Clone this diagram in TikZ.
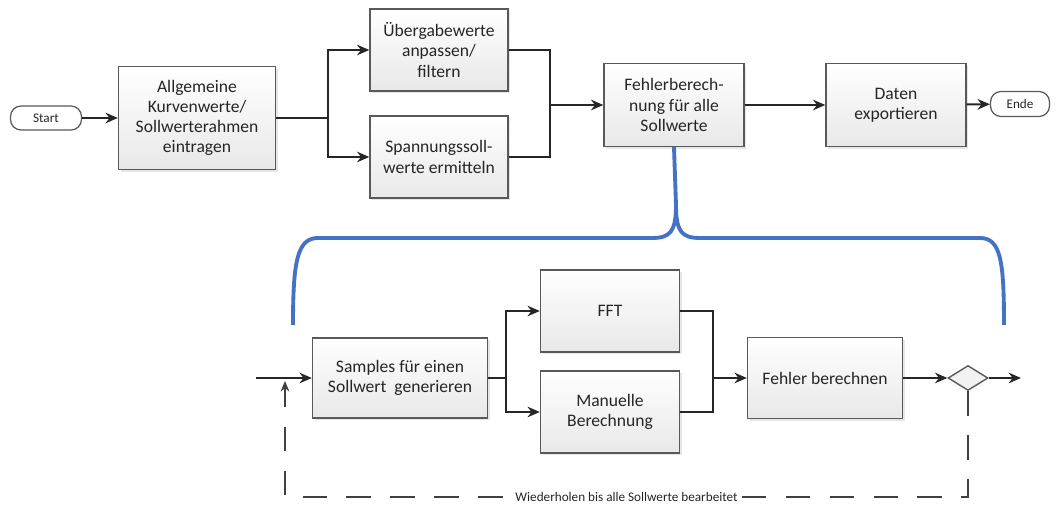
\documentclass[tikz,border=0pt]{standalone}
\usepackage{fontspec}
\setmainfont{Carlito}
\usetikzlibrary{arrows.meta, shapes.geometric, shadows}
\definecolor{klammerblau}{RGB}{68,114,196}

\begin{document}
\begin{tikzpicture}[x=0.02cm, y=-0.02cm, line width=1.2pt,
    % Stile
    box/.style={draw=black!65, line width=0.8pt, top color=white, bottom color=black!9,
        drop shadow={opacity=0.2, shadow xshift=1.2pt, shadow yshift=-1.2pt},
        align=center, text=black!85, font=\fontsize{10}{11.5}\selectfont, inner sep=2pt},
    term/.style={draw=black!65, line width=0.7pt, rounded corners=6pt, fill=white,
        text=black!85, font=\fontsize{7.5}{8}\selectfont, inner sep=1pt},
    flow/.style={draw=black!85, -{Stealth[length=7pt, width=6pt]}},
    line/.style={draw=black!85},
    brace/.style={draw=klammerblau, line width=2.2pt},
    loop/.style={draw=black!75, line width=0.8pt, dash pattern=on 14pt off 11pt,
        -{Stealth[length=6pt, width=5pt]}},
    looplabel/.style={fill=white, inner sep=0.5pt, text=black!85, font=\fontsize{7.5}{9}\selectfont}
]
    \useasboundingbox (0,0) rectangle (1059,506);

    % --- obere Reihe (Hauptablauf) ---
    \node[term, minimum width=1.42cm, minimum height=0.48cm] (start) at (46,118) {Start};
    \node[box, minimum width=3.14cm, minimum height=2.06cm] (kurve) at (197,118)
        {Allgemeine\\Kurvenwerte/\\Sollwerterahmen\\eintragen};
    \node[box, minimum width=2.76cm, minimum height=1.64cm] (filter) at (439,50)
        {Übergabewerte\\anpassen/\\filtern};
    \node[box, minimum width=2.76cm, minimum height=1.64cm] (spann) at (439,157)
        {Spannungssoll-\\werte ermitteln};
    \node[box, minimum width=2.8cm, minimum height=1.66cm] (fehlalle) at (674,105)
        {Fehlerberech-\\nung für alle\\Sollwerte};
    \node[box, minimum width=2.8cm, minimum height=1.66cm] (export) at (896,105)
        {Daten\\exportieren};
    \node[term, minimum width=1.18cm, minimum height=0.5cm] (ende) at (1020,104) {Ende};

    \coordinate (split1) at (328,118);
    \coordinate (merge1) at (550,105);

    % --- untere Reihe (Detail der Fehlerberechnung) ---
    \node[box, minimum width=3.5cm, minimum height=1.6cm] (samples) at (400,378)
        {Samples für einen\\Sollwert\ \ generieren};
    \node[box, minimum width=2.78cm, minimum height=1.64cm] (fft) at (610,311) {FFT};
    \node[box, minimum width=2.78cm, minimum height=1.64cm] (manuell) at (610,412)
        {Manuelle\\Berechnung};
    \node[box, minimum width=3.1cm, minimum height=1.62cm] (fehler) at (825,378)
        {Fehler berechnen};
    \node[diamond, draw=black!65, line width=0.8pt, fill=black!5, aspect=1.6,
        minimum width=0.8cm, minimum height=0.5cm, inner sep=0pt] (abfrage) at (968,378) {};

    \coordinate (eingang) at (256,378);
    \coordinate (ausgang) at (1021,378);
    \coordinate (split2) at (506,378);
    \coordinate (merge2) at (713,378);
    \coordinate (eckeR) at (968,497);
    \coordinate (rueck) at (285,381);

    % --- Verbindungen oben ---
    \draw[flow] (start) -- (kurve);
    \draw[flow] (kurve.east) -- (split1) |- (filter.west);
    \draw[flow] (split1) |- (spann.west);
    \draw[line] (filter.east) -| (merge1);
    \draw[line] (spann.east) -| (merge1);
    \draw[flow] (merge1) -- (fehlalle.west);
    \draw[flow] (fehlalle) -- (export);
    \draw[flow] (export) -- (ende);

    % --- Klammer ---
    \draw[brace] (fehlalle.south) -- (676,205)
        .. controls (676,232) and (670,238) .. (652,238) -- (318,238)
        .. controls (297,238) and (293,262) .. (293,325);
    \draw[brace] (676,205)
        .. controls (676,232) and (682,238) .. (700,238) -- (980,238)
        .. controls (1001,238) and (1004,262) .. (1004,325);

    % --- Verbindungen unten ---
    \draw[flow] (eingang) -- (samples);
    \draw[flow] (samples.east) -- (split2) |- (fft.west);
    \draw[flow] (split2) |- (manuell.west);
    \draw[line] (fft.east) -| (merge2);
    \draw[line] (manuell.east) -| (merge2);
    \draw[flow] (merge2) -- (fehler.west);
    \draw[flow] (fehler) -- (abfrage);
    \draw[flow] (abfrage) -- (ausgang);

    % Schleife zurück
    \draw[loop] (abfrage.south) -- (eckeR) -| node[pos=0.25, looplabel]
        {Wiederholen bis alle Sollwerte bearbeitet} (rueck);

\end{tikzpicture}
\end{document}
